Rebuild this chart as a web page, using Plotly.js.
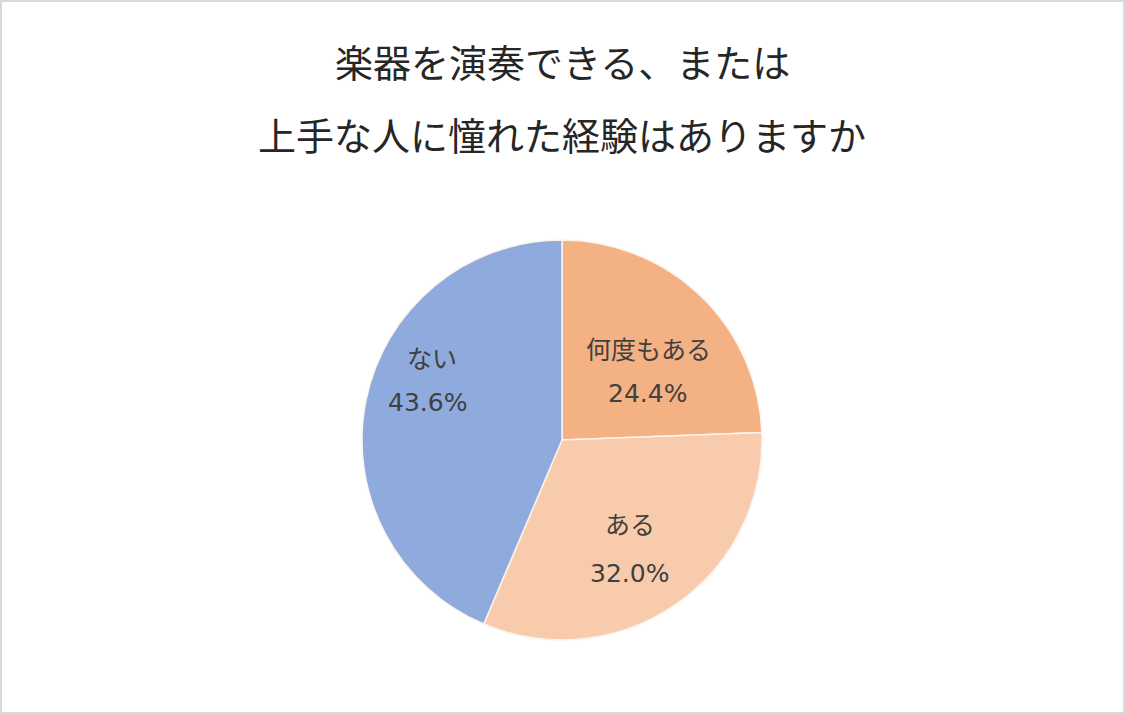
<!DOCTYPE html>
<html>
<head>
<meta charset="utf-8">
<script src="https://cdn.plot.ly/plotly-3.0.1.min.js"></script>
<style>
  html, body { margin: 0; padding: 0; background: #fff; }
  #chart { width: 1125px; height: 714px; }
</style>
</head>
<body>
<div id="chart"></div>
<script>
const labels = ['何度もある', 'ある', 'ない']
const values = [24.4, 32.0, 43.6]
const colors = ['#F4B183', '#F8CBAD', '#8FAADC']
const titleLines = ['楽器を演奏できる、または', '上手な人に憧れた経験はありますか']

// where each slice's label sits (pixels from top-left), label line then value line
const labelPos = [[648, 348, 647, 393], [630, 523, 629, 573], [432, 357, 428, 402]]

const jp = '"Noto Sans CJK JP", "Noto Sans", sans-serif'
const num = '"DejaVu Sans", "Noto Sans", sans-serif'
const W = 1125, H = 714

var trace = {
  type: 'pie',
  labels: labels,
  values: values,
  sort: false,
  direction: 'clockwise',
  rotation: 0,
  marker: {colors: colors, line: {color: '#fdf3ec', width: 1.5}},
  textinfo: 'none',
  hoverinfo: 'none',
  showlegend: false,
  domain: {x: [362/W, 762/W], y: [74/H, 474/H]}
};

function note(text, px, py, size, fam) {
  return {
    text: text, xref: 'paper', yref: 'paper',
    x: px / W, y: 1 - py / H,
    xanchor: 'center', yanchor: 'middle', showarrow: false,
    font: {family: fam, size: size, color: '#404040'}
  }
}

var annotations = []
titleLines.forEach(function (t, i) {
  var a = note(t, 562, 60 + i * 73, 38, jp)
  a.font.color = '#262626'
  annotations.push(a)
})
labels.forEach(function (l, i) {
  var p = labelPos[i]
  annotations.push(note(l, p[0], p[1], 25, jp))
  annotations.push(note(values[i].toFixed(1) + '%', p[2], p[3], 25, num))
})

var layout = {
  width: W,
  height: H,
  margin: {l: 0, r: 0, t: 0, b: 0},
  paper_bgcolor: '#ffffff',
  showlegend: false,
  annotations: annotations,
  shapes: [{
    type: 'rect', xref: 'paper', yref: 'paper',
    x0: 0, y0: 0, x1: 1, y1: 1,
    line: {color: '#d9d9d9', width: 4}
  }]
};

Plotly.newPlot('chart', [trace], layout, {displayModeBar: false});
</script>
</body>
</html>
